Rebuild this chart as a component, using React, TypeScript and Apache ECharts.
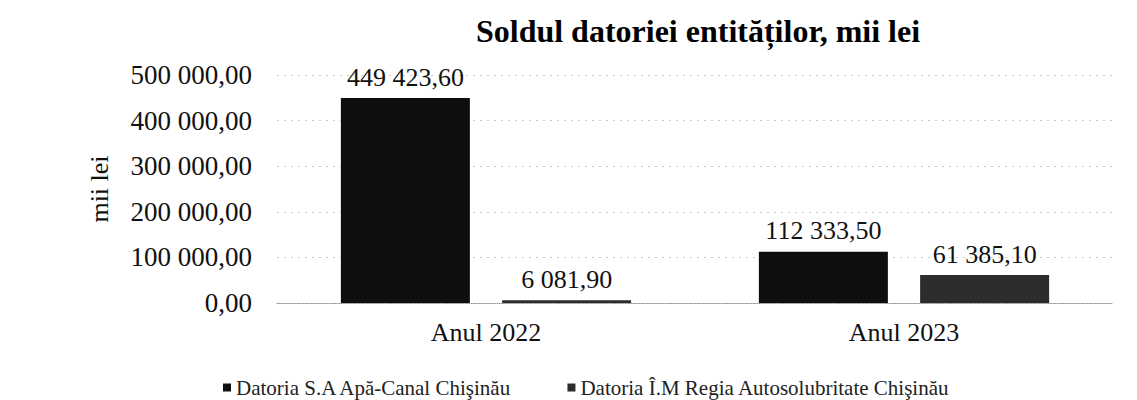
import React, { useEffect, useRef } from "react";
import * as echarts from "echarts";

const categories = ["Anul 2022", "Anul 2023"];
const seriesNames = [
  "Datoria S.A Apă-Canal Chişinău",
  "Datoria Î.M Regia Autosolubritate Chişinău",
];
const apaCanal = [449423.6, 112333.5];
const regia = [6081.9, 61385.1];
const yTicks = [0, 100000, 200000, 300000, 400000, 500000];

const FONT = "Liberation Serif";

function fmt(v: number): string {
  const s = v.toFixed(2);
  const [i, d] = s.split(".");
  const withSpaces = i.replace(/\B(?=(\d{3})+(?!\d))/g, " ");
  return withSpaces + "," + d;
}

export default function App() {
  const ref = useRef<HTMLDivElement>(null);
  useEffect(() => {
    if (!ref.current) return;
    const chart = echarts.init(ref.current, null, { renderer: "svg" });
    const labelCfg = {
      show: true,
      position: "top" as const,
      distance: 8,
      fontFamily: FONT,
      fontSize: 26,
      color: "#111",
      formatter: (p: any) => fmt(p.value),
    };
    const legendText = { fontFamily: FONT, fontSize: 21, color: "#222" };
    chart.setOption({
      animation: false,
      backgroundColor: "#fff",
      textStyle: { fontFamily: FONT },
      title: {
        text: "Soldul datoriei entităților, mii lei",
        left: 693,
        textAlign: "center",
        top: 10,
        textStyle: {
          fontFamily: FONT,
          fontSize: 32,
          fontWeight: "bold",
          color: "#000",
        },
      },
      legend: {
        data: seriesNames.map((n) => ({ name: n, textStyle: legendText })),
        left: 218,
        top: 372,
        itemWidth: 8,
        itemHeight: 8,
        itemGap: 55,
        icon: "rect",
        textStyle: legendText,
      },
      grid: { left: 277, right: 24, top: 75, bottom: 97 },
      xAxis: {
        type: "category",
        data: categories,
        axisTick: { show: false },
        axisLine: { lineStyle: { color: "#999", type: "dotted", width: 1 } },
        axisLabel: {
          fontFamily: FONT,
          fontSize: 26,
          color: "#111",
          margin: 16,
        },
      },
      yAxis: {
        type: "value",
        min: yTicks[0],
        max: yTicks[yTicks.length - 1],
        interval: 100000,
        name: "mii lei",
        nameLocation: "middle",
        nameGap: 165,
        nameRotate: 90,
        nameTextStyle: { fontFamily: FONT, fontSize: 26, color: "#111" },
        axisLine: { show: false },
        axisTick: { show: false },
        splitLine: { lineStyle: { color: "#cccccc", type: [2, 5], width: 1 } },
        axisLabel: {
          fontFamily: FONT,
          fontSize: 27,
          color: "#111",
          margin: 25,
          formatter: (v: number) => fmt(v),
        },
      },
      series: [
        {
          name: seriesNames[0],
          type: "bar",
          data: apaCanal,
          barWidth: 129,
          barGap: "25%",
          itemStyle: { color: "#0e0e0e" },
          label: labelCfg,
        },
        {
          name: seriesNames[1],
          type: "bar",
          data: regia,
          barWidth: 129,
          itemStyle: { color: "#2c2c2c" },
          label: labelCfg,
        },
      ],
    });
    return () => chart.dispose();
  }, []);
  return (
    <div
      ref={ref}
      style={{ position: "absolute", left: 0, top: 0, width: 1137, height: 400 }}
    />
  );
}
